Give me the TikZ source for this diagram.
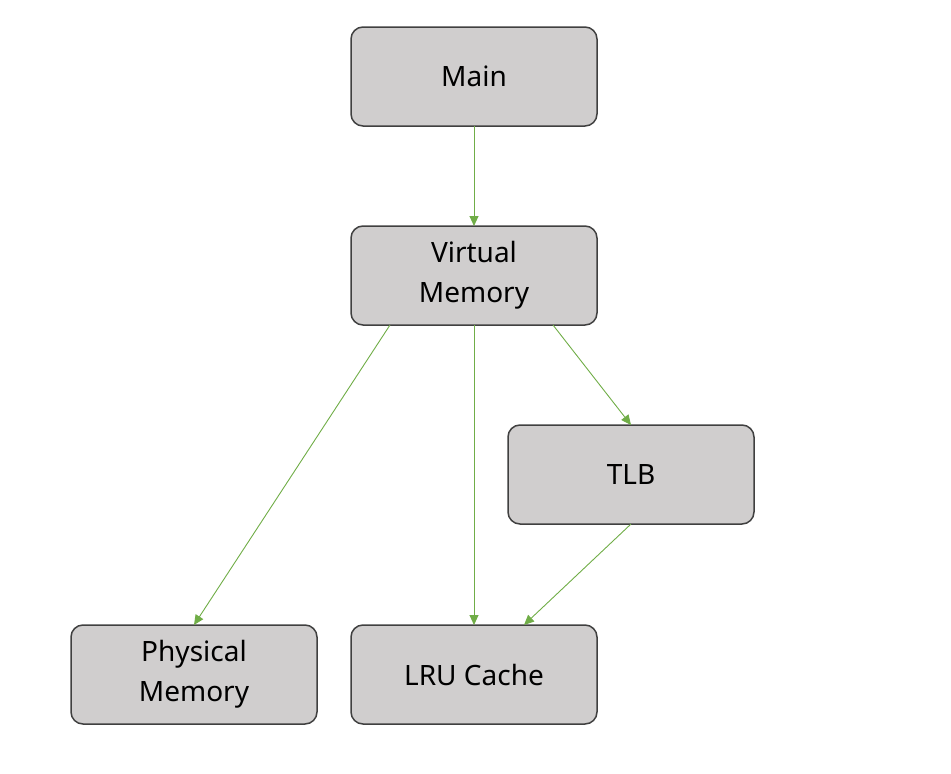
\documentclass[tikz,border=0pt]{standalone}
\usepackage{fontspec}
\setmainfont{Noto Sans}
\usetikzlibrary{arrows.meta, positioning}
\definecolor{linkgreen}{HTML}{70AD47}
\definecolor{boxgray}{HTML}{D0CECE}

\begin{document}
\begin{tikzpicture}[
    x=1pt, y=1pt,
    node distance=100pt and 34pt,
    block/.style={rectangle, rounded corners=12pt, draw=black!75, line width=1.5pt,
                  fill=boxgray, minimum width=246pt, minimum height=99pt, outer sep=0pt,
                  font=\fontsize{28}{40}\selectfont, align=center, inner sep=0pt},
    arrow/.style={-{Triangle[length=10pt, width=9pt]}, line width=0.9pt, draw=linkgreen}
]
\useasboundingbox (0,0) rectangle (951,-774);

% boxes
\node[block] (main) at (474,-76.5) {Main};
\node[block, below=of main] (vmem) {Virtual\\Memory};
\node[block, below=100pt of vmem, xshift=157pt] (tlb) {TLB};
\node[block, below=300pt of vmem] (lru) {LRU Cache};
\node[block, left=of lru] (phys) {Physical\\Memory};

% links
\draw[arrow] (main.south) -- (vmem.north);
\draw[arrow] ([xshift=39pt]vmem.south west) -- (phys.north);
\draw[arrow] (vmem.south) -- (lru.north);
\draw[arrow] ([xshift=-44pt]vmem.south east) -- (tlb.north);
\draw[arrow] (tlb.south) -- ([xshift=50pt]lru.north);

\end{tikzpicture}
\end{document}
